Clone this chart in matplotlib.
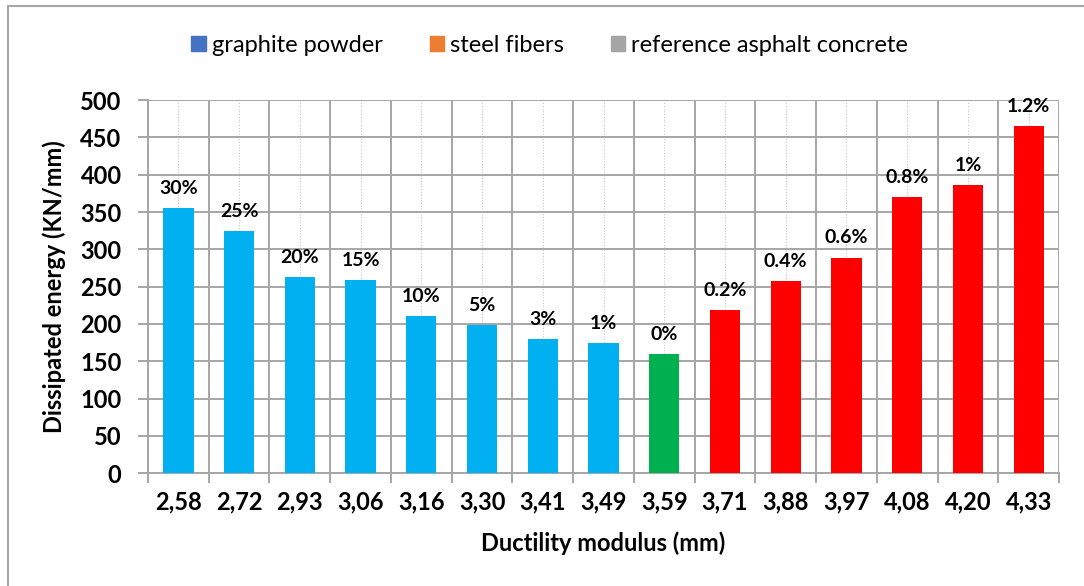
import matplotlib
matplotlib.use("Agg")
import matplotlib.pyplot as plt
from matplotlib.patches import Patch, Rectangle
import numpy as np

# data
ductility = ["2,58", "2,72", "2,93", "3,06", "3,16", "3,30", "3,41", "3,49",
             "3,59", "3,71", "3,88", "3,97", "4,08", "4,20", "4,33"]
energy = [355, 325, 263, 259, 211, 198, 180, 174,
          160, 219, 258, 289, 370, 386, 465]
dosage = ["30%", "25%", "20%", "15%", "10%", "5%", "3%", "1%",
          "0%", "0.2%", "0.4%", "0.6%", "0.8%", "1%", "1.2%"]
group = ["graphite"] * 8 + ["reference"] + ["steel"] * 6

bar_colors = {"graphite": "#00B0F0", "reference": "#00B050", "steel": "#FF0000"}
legend_names = ["graphite powder", "steel fibers", "reference asphalt concrete"]
legend_colors = ["#4472C4", "#ED7D31", "#A5A5A5"]

plt.rcParams['font.family'] = ['Lato', 'DejaVu Sans']

fig = plt.figure(figsize=(10.84, 5.86), dpi=100)
ax = fig.add_axes([0.1365, 0.1923, 0.8405, 0.6370])

x = np.arange(len(ductility))
ax.bar(x, energy, width=0.5, color=[bar_colors[g] for g in group], zorder=3)

for xi, v, lab in zip(x, energy, dosage):
    ax.annotate(lab, (xi, v), xytext=(0, 8), textcoords="offset points",
                ha="center", va="bottom", fontsize=14, fontweight="bold",
                annotation_clip=False, zorder=4)

ax.set_xlim(-0.5, len(ductility) - 0.5)
ax.set_ylim(0, 500)
ax.set_yticks(range(0, 501, 50))
ax.set_xticks(x)
ax.set_xticklabels(ductility, fontsize=17, fontweight="bold")
ax.set_xticks(np.arange(-0.5, len(ductility), 1), minor=True)
for t in ax.get_yticklabels():
    t.set_fontsize(17)
    t.set_fontweight("bold")

# grid: solid horizontal lines, solid lines between categories, dotted at bar centers
ax.grid(axis="y", color="#A6A6A6", linewidth=1.4, zorder=0)
ax.grid(axis="x", which="minor", color="#A6A6A6", linewidth=1.4, zorder=0)
ax.grid(axis="x", which="major", color="#C8C8C8", linewidth=0.8,
        linestyle=(0, (1, 1.5)), zorder=0)
ax.tick_params(axis="y", length=7, color="#A6A6A6", width=1.4, pad=12)
ax.tick_params(axis="x", which="major", direction="in", length=5,
               color="#A6A6A6", width=1.2, pad=12)
ax.tick_params(axis="x", which="minor", length=7, color="#A6A6A6", width=1.4)
for s in ["top", "right"]:
    ax.spines[s].set_visible(False)
for s in ["left", "bottom"]:
    ax.spines[s].set_color("#A6A6A6")
    ax.spines[s].set_linewidth(1.4)

ax.set_xlabel("Ductility modulus (mm)", fontsize=17, fontweight="bold", labelpad=13)
ax.set_ylabel("Dissipated energy (KN/mm)", fontsize=17, fontweight="bold", labelpad=10)

handles = [Patch(color=c, label=n) for c, n in zip(legend_colors, legend_names)]
fig.legend(handles=handles, loc="center", bbox_to_anchor=(0.507, 0.922), ncol=3,
           frameon=False, fontsize=17, handlelength=0.6, handleheight=0.6,
           handletextpad=0.25, columnspacing=2.0)

# chart border
fig.add_artist(Rectangle((8 / 1084, -0.01), 1.02, 1 - 6 / 586 + 0.01,
                         transform=fig.transFigure, fill=False,
                         edgecolor="#A6A6A6", linewidth=1.5))

fig.savefig("out.png", dpi=100)
